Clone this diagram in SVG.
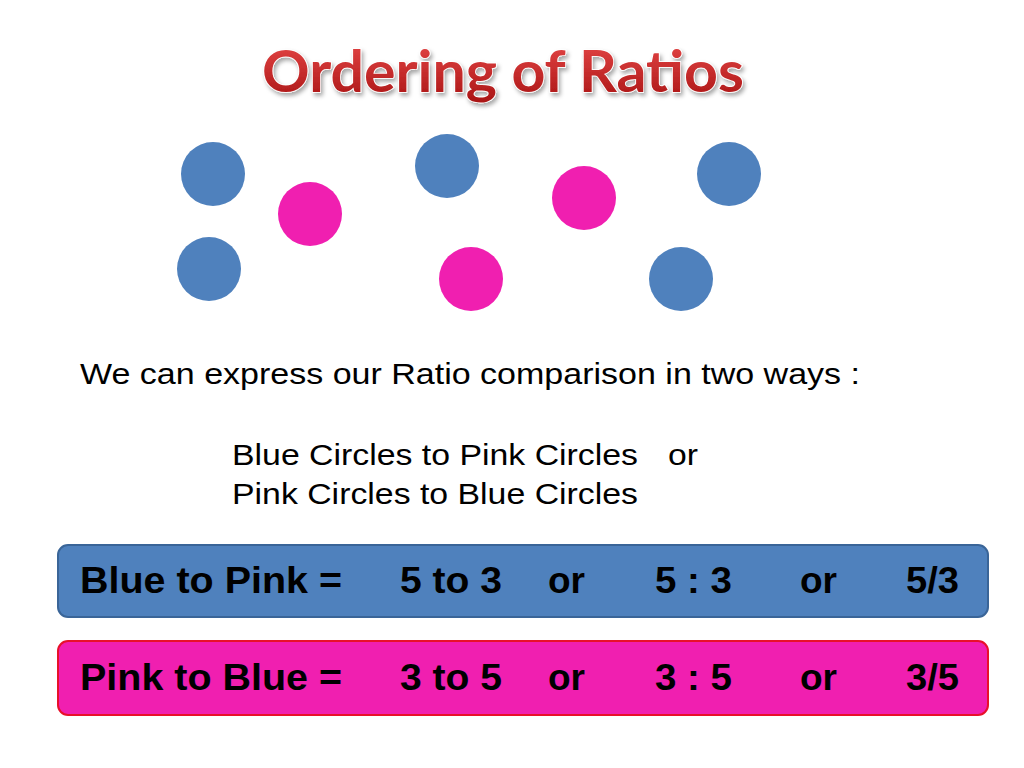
<svg xmlns="http://www.w3.org/2000/svg" width="1024" height="768" viewBox="0 0 1024 768">
<defs>
<filter id="sh" x="-5%" y="-20%" width="110%" height="150%">
<feDropShadow dx="2" dy="3" stdDeviation="2" flood-color="#000" flood-opacity="0.35"/>
</filter>
<linearGradient id="tg" x1="0" y1="0" x2="0" y2="1">
<stop offset="0" stop-color="#e84848"/>
<stop offset="1" stop-color="#a81414"/>
</linearGradient>
</defs>
<style>
.b{fill:#4f81bd}
.p{fill:#f01fb0}
.t{font-family:"Liberation Sans",Arial,sans-serif;font-size:29px;fill:#000}
.r{font-family:"Liberation Sans Narrow","Liberation Sans",Arial,sans-serif;font-weight:bold;font-size:37px;fill:#000}
</style>
<rect width="1024" height="768" fill="#fff"/>
<g id="title" filter="url(#sh)">
<text x="503" y="92" text-anchor="middle" font-family="Lato,'Open Sans',sans-serif" font-weight="bold" font-size="57" fill="url(#tg)" stroke="#fff" stroke-width="1.5" paint-order="stroke" textLength="482" lengthAdjust="spacingAndGlyphs">Ordering of Ratios</text>
</g>
<g id="circles">
<circle class="b" cx="213" cy="174" r="32"/>
<circle class="b" cx="209" cy="269" r="32"/>
<circle class="p" cx="310" cy="214" r="32"/>
<circle class="b" cx="447" cy="166" r="32"/>
<circle class="p" cx="471" cy="279" r="32"/>
<circle class="p" cx="584" cy="198" r="32"/>
<circle class="b" cx="729" cy="174" r="32"/>
<circle class="b" cx="681" cy="279" r="32"/>
</g>
<g id="intro">
<text class="t" x="80" y="384" textLength="780" lengthAdjust="spacingAndGlyphs">We can express our Ratio comparison in two ways :</text>
<text class="t" x="232" y="465" textLength="406" lengthAdjust="spacingAndGlyphs">Blue Circles to Pink Circles</text>
<text class="t" x="668" y="465" textLength="30" lengthAdjust="spacingAndGlyphs">or</text>
<text class="t" x="232" y="504" textLength="406" lengthAdjust="spacingAndGlyphs">Pink Circles to Blue Circles</text>
</g>
<g id="blue-row">
<rect x="58" y="545" width="930" height="72" rx="10" fill="#4f81bd" stroke="#3a6598" stroke-width="2"/>
<text class="r" x="80" y="593" textLength="262" lengthAdjust="spacingAndGlyphs">Blue to Pink =</text>
<text class="r" x="400" y="593" textLength="102" lengthAdjust="spacingAndGlyphs">5 to 3</text>
<text class="r" x="548" y="593" textLength="37" lengthAdjust="spacingAndGlyphs">or</text>
<text class="r" x="655" y="593" textLength="77" lengthAdjust="spacingAndGlyphs">5 : 3</text>
<text class="r" x="800" y="593" textLength="37" lengthAdjust="spacingAndGlyphs">or</text>
<text class="r" x="906" y="593" textLength="53" lengthAdjust="spacingAndGlyphs">5/3</text>
</g>
<g id="pink-row">
<rect x="58" y="641" width="930" height="74" rx="10" fill="#f01fb0" stroke="#e8102a" stroke-width="2"/>
<text class="r" x="80" y="690" textLength="262" lengthAdjust="spacingAndGlyphs">Pink to Blue =</text>
<text class="r" x="400" y="690" textLength="102" lengthAdjust="spacingAndGlyphs">3 to 5</text>
<text class="r" x="548" y="690" textLength="37" lengthAdjust="spacingAndGlyphs">or</text>
<text class="r" x="655" y="690" textLength="77" lengthAdjust="spacingAndGlyphs">3 : 5</text>
<text class="r" x="800" y="690" textLength="37" lengthAdjust="spacingAndGlyphs">or</text>
<text class="r" x="906" y="690" textLength="53" lengthAdjust="spacingAndGlyphs">3/5</text>
</g>
</svg>
